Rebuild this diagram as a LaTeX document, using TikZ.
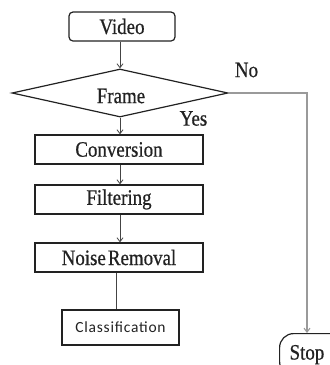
\documentclass[tikz,border=0pt]{standalone}
\usepackage{fontspec}
\setmainfont{Liberation Serif}[FakeStretch=0.86, FakeBold=0.6]
\newfontfamily\calfont[LetterSpace=5]{Carlito}
\usetikzlibrary{shapes.geometric,arrows.meta}

\definecolor{ink}{HTML}{222222}
\definecolor{flow}{HTML}{444444}
\definecolor{noflow}{HTML}{9A9A9A}

\tikzset{
  bigtext/.style={font={\fontsize{22}{24}\selectfont}, text=ink},
  lbl/.style={bigtext, inner sep=0pt},
  stepbox/.style={bigtext, draw=ink, line width=1.2pt, minimum width=168pt, minimum height=29pt,
                  inner sep=0pt},
  termbox/.style={stepbox, rounded corners=4pt},
  decide/.style={draw=ink, line width=1.2pt, diamond, inner sep=0pt,
                 minimum width=216pt, minimum height=48pt},
  flowline/.style={draw=flow, line width=0.8pt},
  flowarrow/.style={flowline, -{Straight Barb[length=4pt,width=6pt]}},
  noline/.style={draw=noflow, line width=1.1pt, -{Straight Barb[length=4pt,width=6pt]}}
}

\begin{document}
\begin{tikzpicture}[x=1pt,y=-1pt]
  \useasboundingbox (0,0) rectangle (330,365);
  \clip (0,0) rectangle (330,365);
  \fill[white] (0,0) rectangle (330,365);

  % main column
  \node[termbox, minimum width=106pt] (video) at (122,26.5) {Video};
  \node[decide] (frame) at (120,93) {};
  \node[lbl] (frametext) at (121,96) {Frame};
  \node[stepbox] (conv)  at (119,149.5) {Conversion};
  \node[stepbox] (filt)  at (119,199.5) {Filtering};
  \node[stepbox] (noise) at (119,257.5) {Noise\hspace{-0.12em} Removal};
  \node[draw=ink, line width=1.1pt, minimum width=117pt, minimum height=35pt, inner sep=0pt,
        font={\calfont\fontsize{15.5}{18}\selectfont}, text=ink] (cls) at (120.5,327.5) {Classification};

  % stop terminal running off the right edge
  \node[bigtext, draw=ink, line width=1.2pt, rounded corners=14pt, anchor=north west,
        minimum width=72pt, minimum height=42pt, inner xsep=10pt, inner ysep=0pt,
        text width=52pt, align=left] (stop) at (279,333) {Stop};

  % branch labels
  \node[lbl] (no)  at (246.5,70) {No};
  \node[lbl] (yes) at (193.5,118.5) {Yes};

  % connectors
  \draw[flowarrow] (video.south -| frame.north) -- (frame.north);
  \draw[flowarrow] (frame.south) -- (conv.north -| frame.south);
  \draw[flowarrow] (conv.south -| frame.south) -- (filt.north -| frame.south);
  \draw[flowarrow] (filt.south -| frame.south) -- (noise.north -| frame.south);
  \coordinate (split) at ([xshift=-3pt]noise.south);
  \draw[flowline] (split) -- (split |- cls.north);
  \coordinate (nocorner) at (307,93);
  \draw[noline] (frame.east) -- (nocorner) -- (nocorner |- stop.north);
\end{tikzpicture}
\end{document}
